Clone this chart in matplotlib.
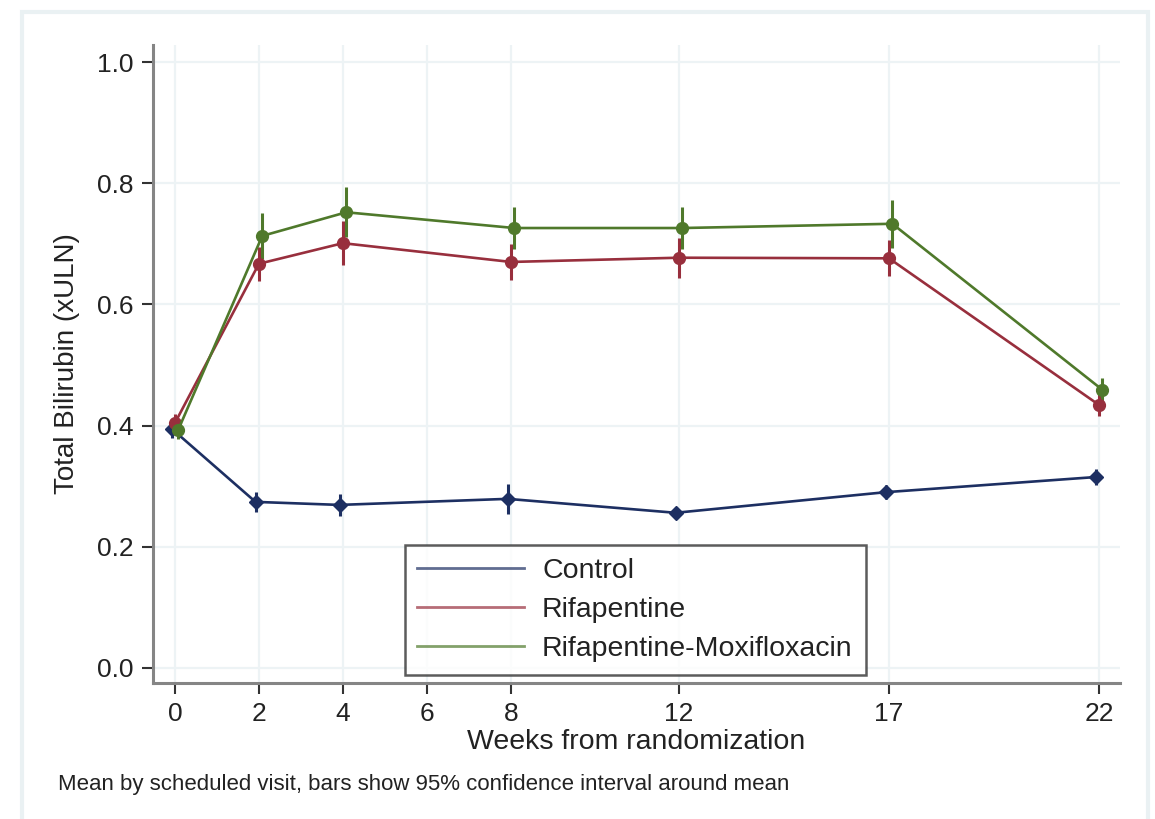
import matplotlib
matplotlib.use("Agg")
import matplotlib.pyplot as plt
from matplotlib.patches import Rectangle

plt.rcParams["font.family"] = ["Liberation Sans", "DejaVu Sans"]

# Mean total bilirubin (xULN) by scheduled visit, with 95% CI half-widths
weeks = [0, 2, 4, 8, 12, 17, 22]
groups = ["Control", "Rifapentine", "Rifapentine-Moxifloxacin"]

control_mean = [0.395, 0.274, 0.269, 0.279, 0.256, 0.290, 0.315]
control_ci = [0.015, 0.016, 0.018, 0.025, 0.010, 0.012, 0.013]

rifapentine_mean = [0.404, 0.667, 0.701, 0.670, 0.677, 0.676, 0.434]
rifapentine_ci = [0.015, 0.028, 0.036, 0.030, 0.033, 0.030, 0.018]

rif_moxi_mean = [0.393, 0.713, 0.752, 0.726, 0.726, 0.733, 0.459]
rif_moxi_ci = [0.015, 0.038, 0.041, 0.034, 0.034, 0.040, 0.019]

xticks = [0, 2, 4, 6, 8, 12, 17, 22]
yticks = [0.0, 0.2, 0.4, 0.6, 0.8, 1.0]

series = [
    (control_mean, control_ci, "#1d2f62", "D", 7.5, -0.08),
    (rifapentine_mean, rifapentine_ci, "#982f3d", "o", 8.5, 0.0),
    (rif_moxi_mean, rif_moxi_ci, "#4f792b", "o", 8.5, 0.08),
]

fig = plt.figure(figsize=(11.55, 8.19), dpi=100)
ax = fig.add_axes([0.1325, 0.166, 0.8372, 0.779])

# light frame around the graph region
fig.patches.append(Rectangle((0.019, -0.02), 0.975, 1.005, transform=fig.transFigure,
                             fill=False, edgecolor="#eaf1f3", lw=3))

for (mean, ci, color, marker, ms, dx), name in zip(series, groups):
    xs = [w + dx for w in weeks]
    ax.errorbar(xs, mean, yerr=ci, color=color, fmt="none", elinewidth=2.2,
                capsize=0, zorder=3)
    ax.plot(xs, mean, color=color, lw=1.9, marker=marker, ms=ms, zorder=4,
            label=name)

ax.set_xlim(-0.52, 22.5)
ax.set_ylim(-0.025, 1.028)
ax.set_xticks(xticks)
ax.set_yticks(yticks)
ax.set_yticklabels([f"{v:.1f}" for v in yticks])
ax.grid(True, color="#edf3f5", lw=1.6)
ax.set_axisbelow(True)

for side in ["top", "right"]:
    ax.spines[side].set_visible(False)
for side in ["left", "bottom"]:
    ax.spines[side].set_color("#858585")
    ax.spines[side].set_linewidth(2.2)

ax.tick_params(axis="both", direction="out", length=8, width=1.5, color="#333333",
               labelsize=19, labelcolor="#222222", pad=6)

ax.set_xlabel("Weeks from randomization", fontsize=20.5, color="#222222", labelpad=2)
ax.set_ylabel("Total Bilirubin (xULN)", fontsize=20, color="#222222", labelpad=12)

leg = ax.legend(loc="lower center", bbox_to_anchor=(0.4985, 0.0), fontsize=20.5,
                frameon=True, fancybox=False, handlelength=3.75, handletextpad=0.63,
                labelspacing=0.45, borderpad=0.45, borderaxespad=0.3)
leg.get_frame().set_edgecolor("#333333")
leg.get_frame().set_linewidth(1.8)
for line, text in zip(leg.get_lines(), leg.get_texts()):
    line.set_marker("")
    line.set_linewidth(2)
    line.set_alpha(0.7)
    text.set_color("#222222")

fig.text(0.05, 0.035, "Mean by scheduled visit, bars show 95% confidence interval around mean",
         fontsize=16, color="#222222")

fig.savefig("out.png", dpi=100)
